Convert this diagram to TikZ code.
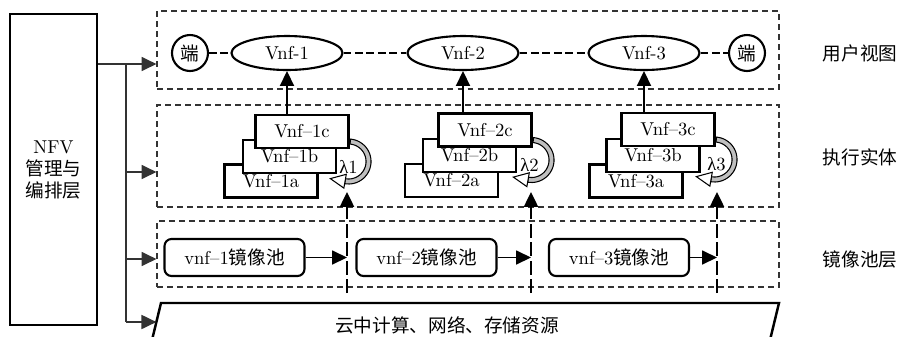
\documentclass[tikz,border=0pt]{standalone}
\usepackage{fontspec}
\newfontfamily\cjk{Noto Sans CJK SC}
\newfontfamily\grk{Liberation Serif}
\usetikzlibrary{arrows.meta,shapes.geometric}

\tikzset{
  layer/.style={draw=black!80, line width=0.7pt, dash pattern=on 3.4pt off 2.3pt, minimum width=12.44cm, inner sep=0pt},
  vnfbox/.style={draw, line width=1.2pt, fill=white, minimum width=1.86cm, minimum height=0.66cm, inner sep=0pt},
  vnf/.style={ellipse, draw, line width=1.2pt, fill=white, minimum width=2.22cm, minimum height=0.68cm, inner sep=0pt},
  term/.style={circle, draw, line width=1.2pt, fill=white, minimum size=0.72cm, inner sep=0pt},
  pool/.style={draw, line width=1.2pt, rounded corners=4pt, fill=white, minimum width=2.8cm, minimum height=0.74cm},
  arr/.style={-{Triangle[length=8.5pt,width=8pt]}},
  chain/.style={line width=1.4pt, dash pattern=on 4.5pt off 2pt},
  pipe/.style={line width=1.2pt, dash pattern=on 8pt off 2.5pt},
  bus/.style={line width=0.9pt, draw=black!80},
}

% curved arrow on the right of a stack (#1 = top box of the stack)
\newcommand{\spinarrow}[1]{%
  \begin{scope}[shift={(#1.east)}]
    \filldraw[fill=gray!50, line width=0.6pt]
      plot[domain=-85:100, samples=30] ({-1+22.5*cos(\x)},{30+22.5*sin(\x)})
      -- plot[domain=100:-85, samples=30] ({-1+17.5*cos(\x)},{30+17.5*sin(\x)}) -- cycle;
    \filldraw[fill=white, line width=0.6pt]
      ({-1+27*cos(100)},{30+27*sin(100)}) -- (-19.2,47.1)
      -- ({-1+13*cos(100)},{30+13*sin(100)}) -- cycle;
  \end{scope}}

\begin{document}
\begin{tikzpicture}[x=0.02cm, y=-0.02cm, font=\fontsize{10.6}{12.5}\selectfont]
  \useasboundingbox (0,0) rectangle (897,336);

  % management block
  \node[draw, line width=1.2pt, minimum width=1.74cm, minimum height=6.22cm, align=center, inner sep=0pt] (nfv) at (53.5,169.5) {NFV\\{\cjk 管理与}\\{\cjk 编排层}};

  % the three layers
  \node[layer, minimum height=1.56cm] (view) at (468,50) {};
  \node[layer, minimum height=2.04cm] (exec) at (468,156) {};
  \node[layer, minimum height=1.32cm] (mirror) at (468,254) {};

  \node (lview) at (860,53) {\cjk 用户视图};
  \node (lexec) at (860,157) {\cjk 执行实体};
  \node (lmirror) at (860,259) {\cjk 镜像池层};

  % user view
  \node[term] (t1) at (190,53) {\cjk 端};
  \node[vnf] (e1) at (287,53) {Vnf-1};
  \node[vnf] (e2) at (463,53) {Vnf-2};
  \node[vnf] (e3) at (644,53) {Vnf-3};
  \node[term] (t2) at (747,53) {\cjk 端};
  \draw[chain] (t1) -- (e1) -- (e2) -- (e3) -- (t2);

  % instances
  \node[vnfbox] (v1a) at (271,181) {\raisebox{-1pt}{Vnf--1a}};
  \node[vnfbox] (v1b) at (289.5,156.5) {\raisebox{-2.5pt}{Vnf--1b}};
  \node[vnfbox] (v1c) at (302,131.5) {Vnf--1c};

  \node[vnfbox] (v2a) at (451.5,180.5) {\raisebox{-1pt}{Vnf--2a}};
  \node[vnfbox] (v2b) at (469.5,155.5) {\raisebox{-2.5pt}{Vnf--2b}};
  \node[vnfbox] (v2c) at (485,130) {Vnf--2c};

  \node[vnfbox] (v3a) at (636,181) {\raisebox{-1pt}{Vnf--3a}};
  \node[vnfbox] (v3b) at (653,155.5) {\raisebox{-2.5pt}{Vnf--3b}};
  \node[vnfbox] (v3c) at (668,129.5) {Vnf--3c};

  \draw[arr, line width=1.2pt] (v1c.north -| e1.south) -- (e1.south);
  \draw[arr, line width=1.2pt] (v2c.north -| e2.south) -- (e2.south);
  \draw[arr, line width=1.2pt] (v3c.north -| e3.south) -- (e3.south);

  \spinarrow{v1c}
  \spinarrow{v2c}
  \spinarrow{v3c}
  \node (lam1) at ([shift={(-1,35)}]v1c.east) {{\grk λ}1};
  \node (lam2) at ([shift={(-3,35)}]v2c.east) {{\grk λ}2};
  \node (lam3) at ([shift={(1,35)}]v3c.east) {{\grk λ}3};

  % image pools
  \node[pool] (p1) at (234.5,257.5) {vnf--1{\cjk 镜像池}};
  \node[pool] (p2) at (426.5,257.5) {vnf--2{\cjk 镜像池}};
  \node[pool] (p3) at (619,257.5) {vnf--3{\cjk 镜像池}};

  \coordinate (s1) at (347,293);
  \coordinate (s2) at (531,293);
  \coordinate (s3) at (717,293);
  \coordinate (u1) at (347,192);
  \coordinate (u2) at (531,192);
  \coordinate (u3) at (717,192);
  \draw[pipe, arr] (s1) -- (u1);
  \draw[pipe, arr] (s2) -- (u2);
  \draw[pipe, arr] (s3) -- (u3);

  \draw[arr, line width=0.8pt] (p1.east) -- (p1.east -| s1);
  \draw[arr, line width=0.8pt] (p2.east) -- (p2.east -| s2);
  \draw[arr, line width=0.8pt] (p3.east) -- (p3.east -| s3);

  % cloud resources
  \coordinate (c1) at (152.5,338);
  \coordinate (c2) at (161,303);
  \coordinate (c3) at (779,303);
  \coordinate (c4) at (770.5,338);
  \draw[line width=1.4pt] (c1) -- (c2) -- (c3) -- (c4);
  \coordinate (cl) at (156.4,322);
  \node (cloud) at (447,325) {\cjk 云中计算、网络、存储资源};

  % control bus
  \coordinate (jn) at (126,64);
  \coordinate (b2) at (126,172);
  \coordinate (b3) at (126,259);
  \coordinate (jc) at (126,322);
  \draw[bus] (nfv.east |- jn) -- (jn) -- (jc);
  \draw[bus, arr] (jn) -- (view.west |- jn);
  \draw[bus, arr] (b2) -- (exec.west |- b2);
  \draw[bus, arr] (b3) -- (mirror.west |- b3);
  \draw[bus, arr] (jc) -- (cl);
\end{tikzpicture}
\end{document}
